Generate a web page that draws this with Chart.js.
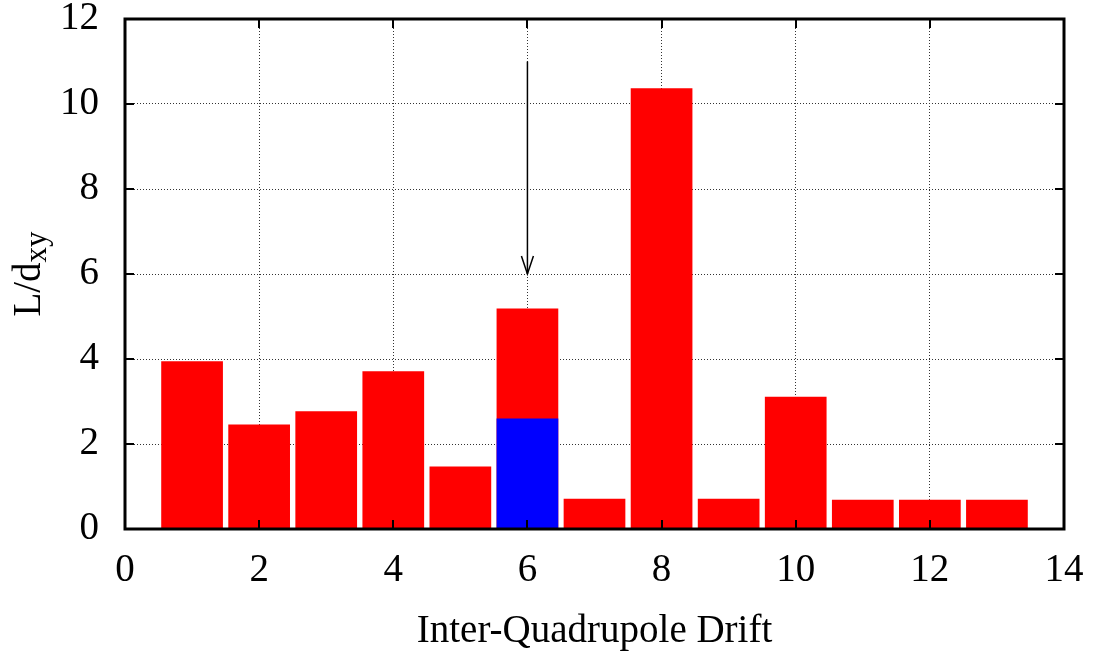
<!DOCTYPE html>
<html>
<head>
<meta charset="utf-8">
<script src="https://cdn.jsdelivr.net/npm/chart.js@4.4.0/dist/chart.umd.min.js"></script>
<style>
  html, body { margin: 0; padding: 0; background: #ffffff; }
  #wrap { width: 1094px; height: 653px; }
</style>
</head>
<body>
<div id="wrap"><canvas id="c" width="1094" height="653"></canvas></div>
<script>
// Drift index along the lattice and the L/d_xy ratio of each drift
const drifts = [1, 2, 3, 4, 5, 6, 7, 8, 9, 10, 11, 12, 13];
const ratios = [3.95, 2.46, 2.77, 3.71, 1.47, 5.19, 0.71, 10.37, 0.71, 3.11, 0.69, 0.69, 0.69];

// Highlighted portion of drift 6
const highlightDrifts = [6];
const highlightRatios = [2.60];

// Marker arrow above drift 6 (x, start value, end value)
const arrowX = [6];
const arrowFrom = [11.0];
const arrowTo = [6.0];

// Axis ranges and tick steps
const xRange = [0, 14];
const yRange = [0, 12];
const xStep = 2;
const yStep = 2;

const xTitle = 'Inter-Quadrupole Drift';
const yTitleMain = 'L/d';
const yTitleSub = 'xy';

const FONT = '"Liberation Serif", "Times New Roman", serif';
const FSIZE = 39;

const frame = {
  id: 'frame',
  afterDatasetsDraw(chart) {
    const ctx = chart.ctx;
    const xs = chart.scales.x, ys = chart.scales.y;
    ctx.save();
    ctx.strokeStyle = '#000';
    ctx.lineWidth = 1.5;
    for (let i = 0; i < arrowX.length; i++) {
      const x = xs.getPixelForValue(arrowX[i]);
      const y1 = ys.getPixelForValue(arrowFrom[i]);
      const y2 = ys.getPixelForValue(arrowTo[i]);
      ctx.beginPath();
      ctx.moveTo(x, y1);
      ctx.lineTo(x, y2);
      ctx.stroke();
      const dir = y2 > y1 ? -1 : 1;
      ctx.beginPath();
      ctx.moveTo(x - 6, y2 + dir * 18);
      ctx.lineTo(x, y2);
      ctx.lineTo(x + 6, y2 + dir * 18);
      ctx.stroke();
    }
    ctx.restore();
  },
  afterDraw(chart) {
    const ctx = chart.ctx;
    const { left, right, top, bottom } = chart.chartArea;
    const xs = chart.scales.x, ys = chart.scales.y;
    ctx.save();
    // inward tick marks on all four sides
    ctx.strokeStyle = '#000';
    ctx.lineWidth = 2;
    const tl = 9;
    for (let v = xRange[0]; v <= xRange[1]; v += xStep) {
      const x = Math.round(xs.getPixelForValue(v));
      ctx.beginPath();
      ctx.moveTo(x, bottom); ctx.lineTo(x, bottom - tl);
      ctx.moveTo(x, top); ctx.lineTo(x, top + tl);
      ctx.stroke();
    }
    for (let v = yRange[0]; v <= yRange[1]; v += yStep) {
      const y = Math.round(ys.getPixelForValue(v));
      ctx.beginPath();
      ctx.moveTo(left, y); ctx.lineTo(left + tl, y);
      ctx.moveTo(right, y); ctx.lineTo(right - tl, y);
      ctx.stroke();
    }
    // plot border
    ctx.lineWidth = 3;
    ctx.strokeRect(left, top, right - left, bottom - top);

    // axis titles
    ctx.fillStyle = '#000';
    ctx.font = FSIZE + 'px ' + FONT;
    ctx.textAlign = 'center';
    ctx.textBaseline = 'alphabetic';
    ctx.fillText(xTitle, (left + right) / 2, 642);

    ctx.translate(40, (top + bottom) / 2);
    ctx.rotate(-Math.PI / 2);
    ctx.textAlign = 'left';
    const mainW = ctx.measureText(yTitleMain).width;
    const subSize = Math.round(FSIZE * 0.8);
    ctx.font = subSize + 'px ' + FONT;
    const subW = ctx.measureText(yTitleSub).width;
    const start = -(mainW + subW) / 2;
    ctx.font = FSIZE + 'px ' + FONT;
    ctx.fillText(yTitleMain, start, 0);
    ctx.font = subSize + 'px ' + FONT;
    ctx.fillText(yTitleSub, start + mainW, 6);
    ctx.restore();
  }
};

const tickFont = { family: FONT, size: FSIZE, lineHeight: 1 };

new Chart(document.getElementById('c'), {
  type: 'bar',
  data: {
    datasets: [
      {
        data: highlightDrifts.map((x, i) => ({ x, y: highlightRatios[i] })),
        backgroundColor: '#0000ff',
        borderWidth: 0,
        grouped: false,
        categoryPercentage: 1,
        barPercentage: 0.92
      },
      {
        data: drifts.map((x, i) => ({ x, y: ratios[i] })),
        backgroundColor: '#ff0000',
        borderWidth: 0,
        grouped: false,
        categoryPercentage: 1,
        barPercentage: 0.92
      }
    ]
  },
  options: {
    responsive: false,
    animation: false,
    devicePixelRatio: 1,
    layout: { padding: { left: 0, top: 19, right: 30, bottom: 0 } },
    plugins: { legend: { display: false }, tooltip: { enabled: false } },
    scales: {
      x: {
        type: 'linear',
        min: xRange[0], max: xRange[1],
        offset: false,
        ticks: { stepSize: xStep, color: '#000', font: tickFont, padding: 22, maxRotation: 0, autoSkip: false },
        grid: { color: '#333', lineWidth: 1, drawTicks: false, offset: false },
        border: { display: false, dash: [1, 2] },
        afterFit(s) { s.height = 124; s.paddingLeft = 0; s.paddingRight = 0; }
      },
      y: {
        min: yRange[0], max: yRange[1],
        ticks: { stepSize: yStep, color: '#000', font: tickFont, padding: 26 },
        grid: { color: '#333', lineWidth: 1, drawTicks: false },
        border: { display: false, dash: [1, 2] },
        afterFit(s) { s.width = 125; s.paddingTop = 0; s.paddingBottom = 0; }
      }
    }
  },
  plugins: [frame]
});
</script>
</body>
</html>
